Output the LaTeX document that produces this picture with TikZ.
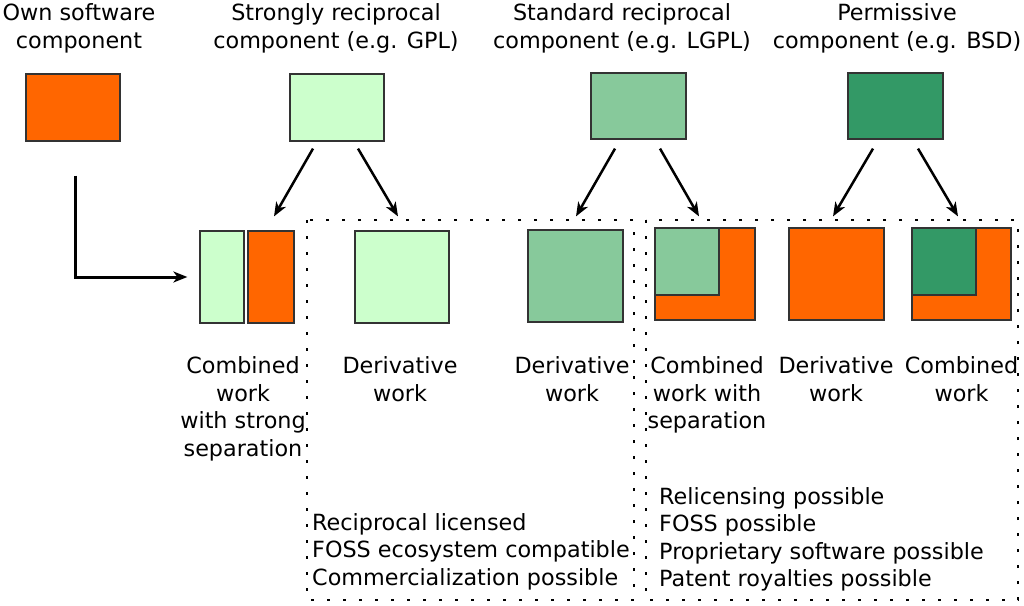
\documentclass[tikz,border=0pt]{standalone}
\usepackage{fontspec}
\setmainfont{DejaVu Sans}
\usetikzlibrary{arrows.meta}
\definecolor{ownorange}{HTML}{FF6600}
\definecolor{gplgreen}{HTML}{CCFFCC}
\definecolor{lgplgreen}{HTML}{87C99B}
\definecolor{bsdgreen}{HTML}{339966}
\definecolor{edgegray}{HTML}{333333}
\begin{document}
\begin{tikzpicture}[x=1pt, y=-1pt,
    box/.style={draw=edgegray, line width=1.2pt, inner sep=0pt, fill=#1},
    arr/.style={-{Stealth[length=14pt,width=11pt,inset=4pt]}, line width=2.5pt},
    lbl/.style={font=\fontsize{22.3}{27.5}\selectfont, inner sep=0pt, align=center, anchor=north},
    list/.style={font=\fontsize{22.3}{27.5}\selectfont, inner sep=0pt, align=left, anchor=north west},
    area/.style={line width=2.6pt, dash pattern=on 2.6pt off 13.4pt}]
    \useasboundingbox (0,0) rectangle (1024,605);
    % dotted license areas
    \draw[area] (307,220) rectangle (634,600);
    \draw[area] (646,220) rectangle (1018,600);
    % top components
    \node[box=ownorange, minimum width=94pt, minimum height=67pt] (own) at (73,107.5) {};
    \node[box=gplgreen, minimum width=94pt, minimum height=67pt] (gpl) at (337,107.5) {};
    \node[box=lgplgreen, minimum width=95pt, minimum height=66pt] (lgpl) at (638.5,106) {};
    \node[box=bsdgreen, minimum width=95pt, minimum height=66pt] (bsd) at (895.5,106) {};
    \node[lbl] (ownlbl) at (79,3.5) {Own software\\component};
    \node[lbl] (gpllbl) at (336,3.5) {Strongly reciprocal\\component (e.g. GPL)};
    \node[lbl] (lgpllbl) at (622,3.5) {Standard reciprocal\\component (e.g. LGPL)};
    \node[lbl] (bsdlbl) at (897,3.5) {Permissive\\component (e.g. BSD)};
    % resulting works
    \node[box=gplgreen, minimum width=44pt, minimum height=92pt] (cwsl) at (222,277) {};
    \node[box=ownorange, minimum width=46pt, minimum height=92pt] (cwsr) at (271,277) {};
    \node[box=gplgreen, minimum width=94pt, minimum height=92pt] (dgpl) at (402,277) {};
    \node[box=lgplgreen, minimum width=95pt, minimum height=92pt] (dlgpl) at (575.5,276) {};
    \node[box=ownorange, minimum width=100pt, minimum height=92pt] (cwl) at (705,274) {};
    \node[box=lgplgreen, minimum width=64pt, minimum height=67pt] (cwlin) at (687,261.5) {};
    \node[box=ownorange, minimum width=95pt, minimum height=92pt] (dbsd) at (836.5,274) {};
    \node[box=ownorange, minimum width=99pt, minimum height=92pt] (cwb) at (961.5,274) {};
    \node[box=bsdgreen, minimum width=64pt, minimum height=67pt] (cwbin) at (944,261.5) {};
    \node[lbl] (cwslbl) at (243,356.5) {Combined\\work\\with strong\\separation};
    \node[lbl] (dgpllbl) at (400,356.5) {Derivative\\work};
    \node[lbl] (dlgpllbl) at (572,356.5) {Derivative\\work};
    \node[lbl] (cwllbl) at (707,356.5) {Combined\\work with\\separation};
    \node[lbl] (dbsdlbl) at (836,356.5) {Derivative\\work};
    \node[lbl] (cwblbl) at (961.5,356.5) {Combined\\work};
    % properties
    \node[list] (recip) at (312,513) {Reciprocal licensed\\FOSS ecosystem compatible\\Commercialization possible};
    \node[list] (perm) at (659,487) {Relicensing possible\\FOSS possible\\Proprietary software possible\\Patent royalties possible};
    % arrows
    \draw[arr, line width=3pt] ([xshift=2pt,yshift=-34pt]own.south) |- ([xshift=-12pt]cwsl.west);
    \draw[arr] ([xshift=-24pt,yshift=-7pt]gpl.south) -- ([xshift=3pt,yshift=14pt]cwsr.north);
    \draw[arr] ([xshift=21pt,yshift=-7pt]gpl.south) -- ([xshift=-4pt,yshift=14pt]dgpl.north);
    \draw[arr] ([xshift=-23.5pt,yshift=-9pt]lgpl.south) -- ([xshift=0.5pt,yshift=13pt]dlgpl.north);
    \draw[arr] ([xshift=21.5pt,yshift=-9pt]lgpl.south) -- ([xshift=-6pt,yshift=11pt]cwl.north);
    \draw[arr] ([xshift=-22.5pt,yshift=-9pt]bsd.south) -- ([xshift=-3.5pt,yshift=11pt]dbsd.north);
    \draw[arr] ([xshift=22.5pt,yshift=-9pt]bsd.south) -- ([xshift=-3.5pt,yshift=11pt]cwb.north);
\end{tikzpicture}
\end{document}
